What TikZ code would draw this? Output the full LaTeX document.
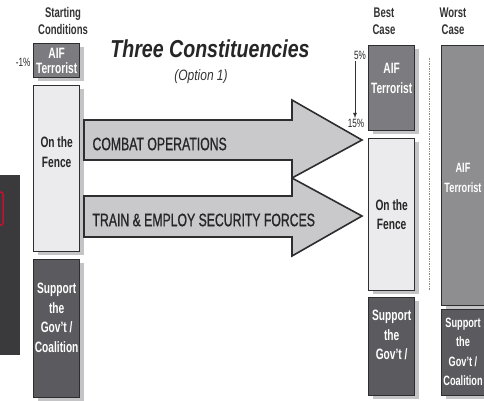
\documentclass[tikz,border=0pt]{standalone}
\usepackage{fontspec}
\setmainfont[FakeStretch=0.68]{Liberation Sans}
\newfontfamily\titlefont[FakeStretch=0.8]{Liberation Sans}
\newfontfamily\arrowfont[FakeStretch=0.68,FakeBold=0.9]{Liberation Sans}
\usetikzlibrary{shadows}
\definecolor{darkbox}{HTML}{5B5B5F}
\definecolor{lightbox}{HTML}{EBEBED}
\definecolor{midbox}{HTML}{7C7C80}
\definecolor{worstbox}{HTML}{8E8E91}
\definecolor{arrowfill}{HTML}{C9C9CB}
\definecolor{edge}{HTML}{2E2E30}
\definecolor{shade}{HTML}{C4C4C6}
\definecolor{panel}{HTML}{3A3A3C}
\definecolor{redmark}{HTML}{C8102E}
\tikzset{
  boxbase/.style={draw=edge, line width=1.3pt, anchor=north west, inner sep=1pt, align=center,
    font=\fontsize{15}{19.5}\selectfont\bfseries,
    drop shadow={shadow xshift=4pt, shadow yshift=-3pt, fill=shade, opacity=1}},
  darkstyle/.style={boxbase, fill=darkbox, text=white},
  midstyle/.style={boxbase, fill=midbox, text=white},
  lightstyle/.style={boxbase, fill=lightbox, text=black!85},
  worststyle/.style={boxbase, fill=worstbox, text=white},
  boxtext/.style={font=\fontsize{13.5}{19.5}\selectfont\bfseries, text=white, align=center},
  head/.style={font=\fontsize{14}{17}\selectfont\bfseries, align=center, text=black!80},
  arrowshape/.style={draw=edge, line width=1.6pt, fill=arrowfill, line join=miter},
  arrowtext/.style={font=\arrowfont\fontsize{18}{19}\selectfont, text=black!85, anchor=west},
  pct/.style={font=\fontsize{12}{13}\selectfont, text=black!85, inner sep=0.5pt},
}
\begin{document}
\begin{tikzpicture}[x=1pt,y=-1pt]
\useasboundingbox (0,0) rectangle (484,400);
% left partial panel
\fill[panel] (0,175) rectangle (20,355);
\draw[redmark, line width=1.5pt, rounded corners=2pt, fill=panel] (-6,192) rectangle (3,225);

% headings
\node[head] (hstart) at (63,21) {Starting\\Conditions};
\node[head] (hbest) at (384,21) {Best\\Case};
\node[head] (hworst) at (453,21) {Worst\\Case};
\node[font=\titlefont\fontsize{24.5}{26}\selectfont\bfseries\itshape, text=black!85] (title) at (210,49) {Three Constituencies};
\node[font=\titlefont\fontsize{15}{16}\selectfont\itshape, text=black!80] (opt) at (201,77) {(Option 1)};

% starting column
\node[midstyle, minimum width=46pt, minimum height=34pt, font=\fontsize{15}{15}\selectfont\bfseries] (s1) at (33,43) {AIF\\Terrorist};
\node[lightstyle, minimum width=46pt, minimum height=166pt] (s2) at (33,85) {On the\\Fence\\[14pt]};
\node[darkstyle, minimum width=46pt, minimum height=138pt] (s3) at (33,259) {Support\\the\\Gov't /\\Coalition\\[2pt]};
\node[pct, anchor=east] (p1) at (31,62) {-1\%};

% big arrows
\path[arrowshape]
  (84,196) -- (292,196) -- (292,178) -- (362,216) -- (292,256) -- (292,237) -- (84,237) -- cycle;
\path[arrowshape]
  (84,120) -- (292,120) -- (292,100) -- (362,140) -- (292,178) -- (292,160) -- (84,160) -- cycle;
\node[arrowtext] (a1) at (89,144) {COMBAT OPERATIONS};
\node[arrowtext] (a2) at (89,220) {TRAIN \& EMPLOY SECURITY FORCES};

% best case column
\node[midstyle, minimum width=46pt, minimum height=85pt] (b1) at (368,45) {AIF\\Terrorist\\[0pt]};
\node[lightstyle, minimum width=46pt, minimum height=152pt] (b2) at (368,138) {On the\\Fence};
\node[darkstyle, minimum width=46pt, minimum height=98pt] (b3) at (368,297) {Support\\the\\Gov't /\\[4pt]};
\node[pct] (p5) at (360,55) {5\%};
\node[pct] (p15) at (356,123) {15\%};
\draw[-latex, line width=0.8pt, black!80] (355,61) -- (p15.north -| 355,0);

% separator
\draw[dash pattern=on 1.5pt off 1pt, line width=0.9pt, black!45] (429,58) -- (429,290);

% worst case column
\node[worststyle, minimum width=50pt, minimum height=260pt] (w1) at (441,45) {};
\node[boxtext] (w1t) at (463,178) {AIF\\Terrorist};
\node[darkstyle, minimum width=50pt, minimum height=86pt] (w2) at (441,309) {};
\node[boxtext] (w2t) at (463,352) {Support\\the\\Gov't /\\Coalition};
\end{tikzpicture}
\end{document}
